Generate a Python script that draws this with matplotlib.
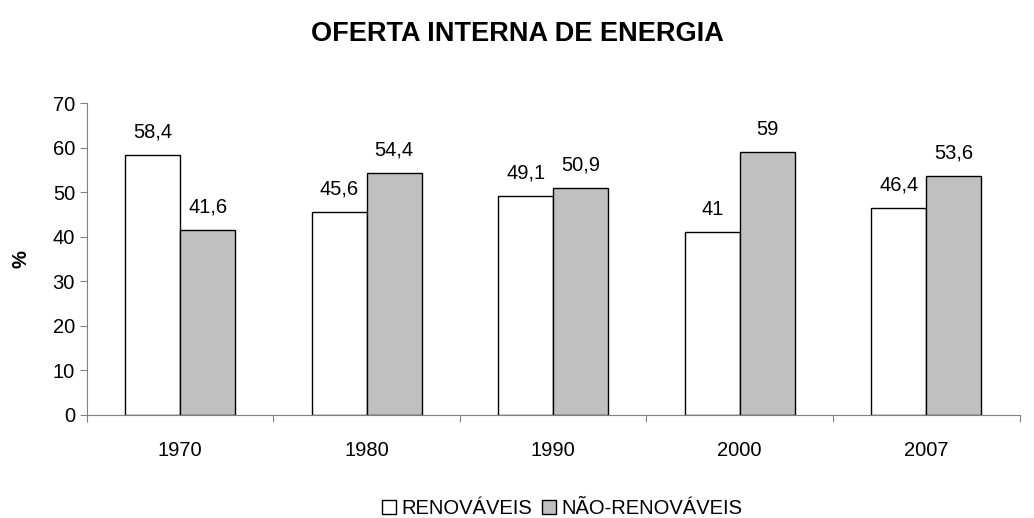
import matplotlib
matplotlib.use('Agg')
import matplotlib.pyplot as plt
import numpy as np

plt.rcParams['font.family'] = ['Liberation Sans', 'DejaVu Sans']

anos = ['1970', '1980', '1990', '2000', '2007']
renovaveis = [58.4, 45.6, 49.1, 41, 46.4]
nao_renovaveis = [41.6, 54.4, 50.9, 59, 53.6]
rot_renov = ['58,4', '45,6', '49,1', '41', '46,4']
rot_nao = ['41,6', '54,4', '50,9', '59', '53,6']

fig = plt.figure(figsize=(10.34, 5.18), dpi=100)
ax = fig.add_axes([0.084, 0.199, 0.902, 0.602])

x = np.arange(len(anos))
w = 0.295
b1 = ax.bar(x - w / 2, renovaveis, w, color='white', edgecolor='black', linewidth=1, label='RENOVÁVEIS')
b2 = ax.bar(x + w / 2, nao_renovaveis, w, color='#c0c0c0', edgecolor='black', linewidth=1, label='NÃO-RENOVÁVEIS')

# rótulos de valor
fs = 14.5
for rect, txt in zip(b1, rot_renov):
    ax.text(rect.get_x() + rect.get_width() / 2, rect.get_height() + 3, txt,
            ha='center', va='bottom', fontsize=fs)
for rect, txt in zip(b2, rot_nao):
    ax.text(rect.get_x() + rect.get_width() / 2, rect.get_height() + 3, txt,
            ha='center', va='bottom', fontsize=fs)

ax.set_xlim(-0.5, len(anos) - 0.5)
ax.set_ylim(0, 70)
ax.set_yticks(range(0, 71, 10))
ax.tick_params(axis='y', labelsize=fs, direction='out', length=5, width=0.8)
ax.set_xticks(x)
ax.set_xticklabels(anos, fontsize=fs)
ax.tick_params(axis='x', length=0, pad=19)
ax.set_xticks(np.arange(-0.5, len(anos), 1), minor=True)
ax.tick_params(axis='x', which='minor', direction='out', length=5, width=0.8)

ax.spines['top'].set_visible(False)
ax.spines['right'].set_visible(False)
ax.spines['left'].set_color('#808080')
ax.spines['bottom'].set_color('#808080')
ax.tick_params(which='both', color='#808080')

ax.set_ylabel('%', fontsize=fs, fontweight='bold', labelpad=16)
fig.suptitle('OFERTA INTERNA DE ENERGIA', fontsize=19.5, fontweight='bold', y=0.96)

ax.legend(loc='upper center', bbox_to_anchor=(0.51, -0.212), ncol=2, frameon=False,
          fontsize=fs, handlelength=0.65, handleheight=0.65, handletextpad=0.3,
          columnspacing=0.5)

fig.savefig('out.png', dpi=100)
